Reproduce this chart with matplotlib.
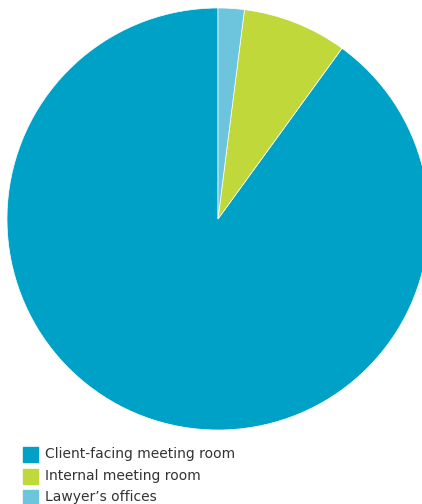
import matplotlib.pyplot as plt
from matplotlib.patches import Rectangle

# Share of rooms (percent)
labels = ["Client-facing meeting room", "Internal meeting room", "Lawyer\u2019s offices"]
values = [90, 8, 2]
colors = ["#00a1c6", "#c1d83a", "#6cc5dd"]

fig = plt.figure(figsize=(4.22, 5.04), dpi=100)
ax = fig.add_axes([0, 0, 1, 1])

# slices run counter-clockwise from the top, so the small ones sit right of 12 o'clock
ax.pie(values, colors=colors, startangle=90, counterclock=True,
       radius=1.0, wedgeprops=dict(linewidth=0.5, edgecolor="white"))

# 1 data unit = 211 px, pie centre at (218, 219) px
ax.set_xlim(-218 / 211, (422 - 218) / 211)
ax.set_ylim(-(504 - 219) / 211, 219 / 211)
ax.set_aspect("auto")
ax.axis("off")

# legend drawn by hand, one row per category
row_y = [454, 476, 497]
for lab, col, y in zip(labels, colors, row_y):
    fig.patches.append(Rectangle((23 / 422, 1 - (y + 7.5) / 504), 15 / 422, 15 / 504,
                                 transform=fig.transFigure, color=col))
    fig.text(45 / 422, 1 - y / 504, lab, fontsize=10, color="#333333",
             family="DejaVu Sans", va="center", ha="left")

fig.savefig("out.png", dpi=100)
